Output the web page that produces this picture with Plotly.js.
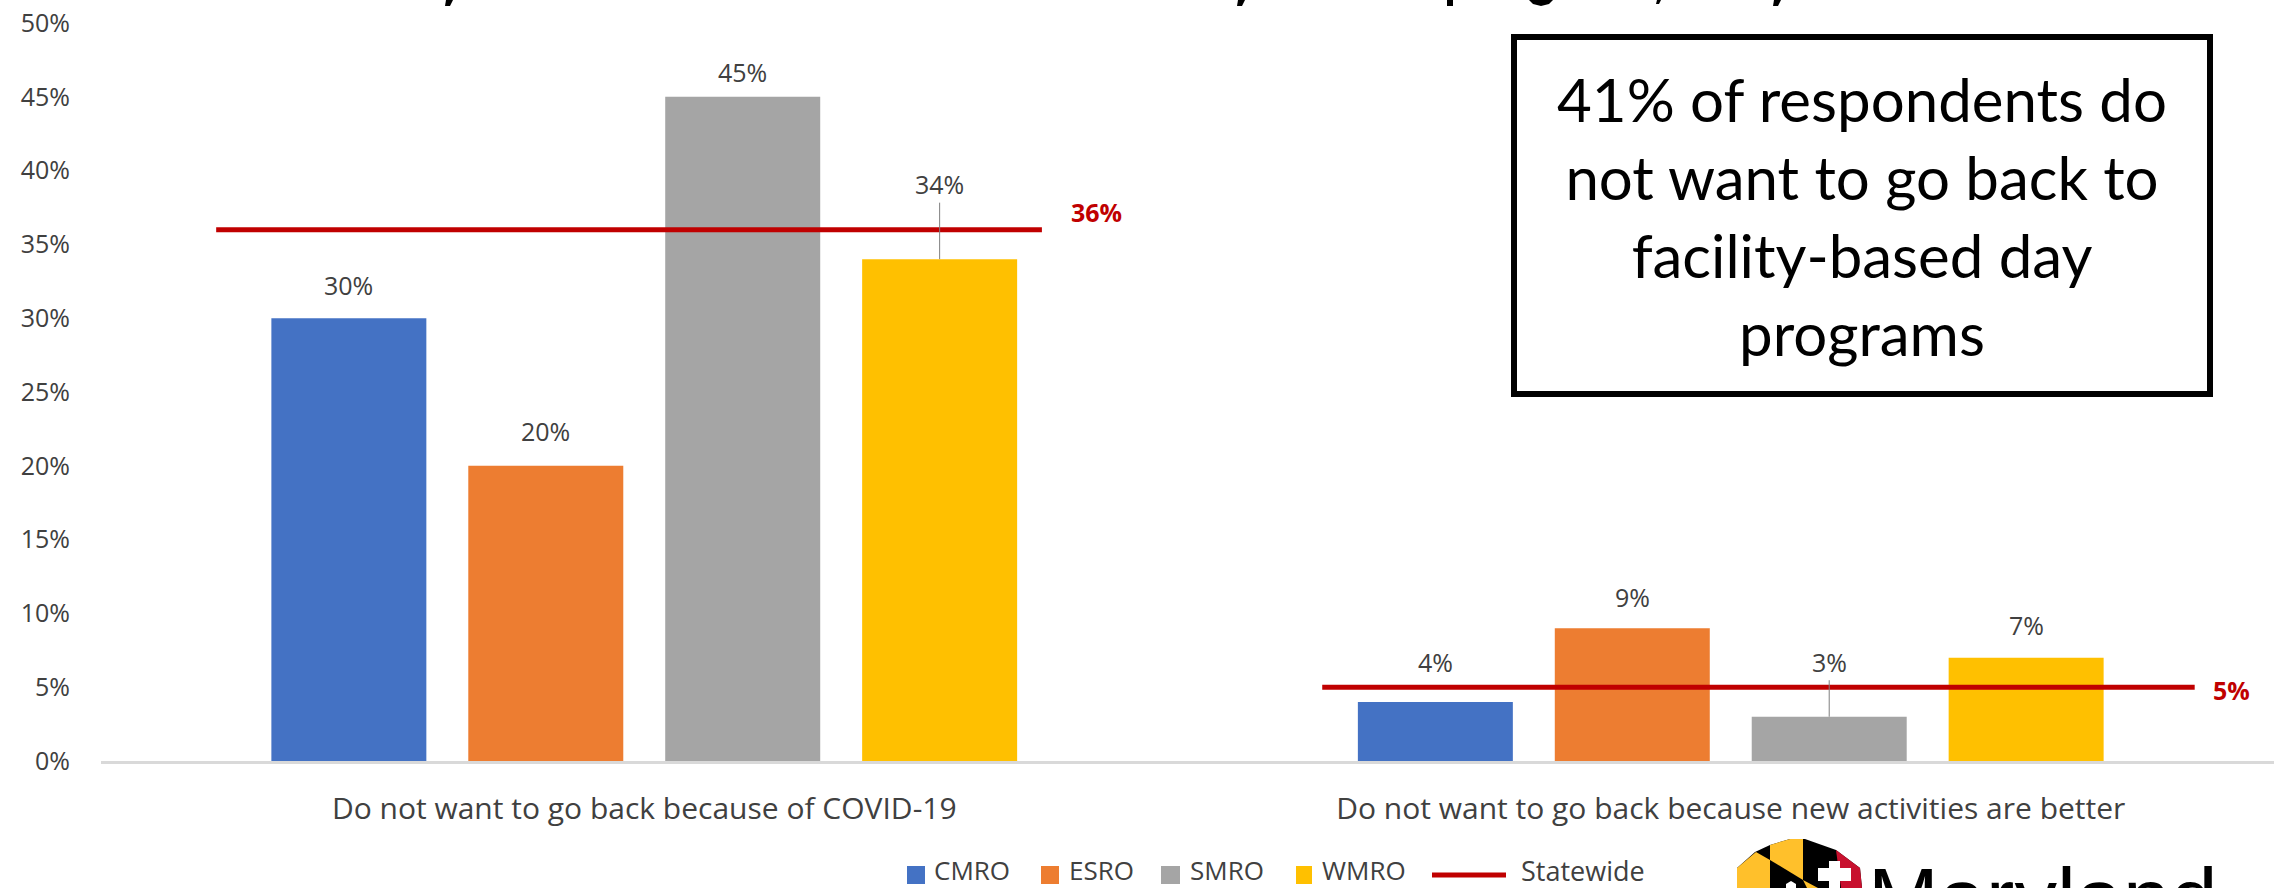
<!DOCTYPE html>
<html>
<head>
<meta charset="utf-8">
<script src="https://cdn.plot.ly/plotly-3.0.1.min.js"></script>
<style>html,body{margin:0;padding:0;background:#fff;overflow:hidden}</style>
</head>
<body>
<div id="chart" style="width:2283px;height:888px"></div>
<script>
// Reasons for not returning to facility-based day programs, by region
const categories = ["Do not want to go back because of COVID-19", "Do not want to go back because new activities are better"];
const cmro = [30, 4];
const esro = [20, 9];
const smro = [45, 3];
const wmro = [34, 7];
const statewide = [36, 5];
const regionNames = ["CMRO", "ESRO", "SMRO", "WMRO"];
const regionColors = ["#4472C4", "#ED7D31", "#A5A5A5", "#FFC000"];
const statewideName = "Statewide";
const statewideColor = "#C00000";
const yTicks = [0, 5, 10, 15, 20, 25, 30, 35, 40, 45, 50];
const calloutLines = ["41% of respondents do", "not want to go back to", "facility-based day", "programs"];

// Page geometry of the plot area
const W = 2283, H = 888, L = 101, R = 9, T = 23, B = 127;
const px = v => (v - L) / (W - L - R);
const py = v => (H - B - v) / (H - B - T);

const seriesValues = [cmro, esro, smro, wmro];
const groupIndex = categories.map((_, i) => i);
const BAR_GAP = 0.275, GROUP_GAP = 0.213;
const slot = (1 - BAR_GAP) / regionNames.length;

const traces = regionNames.map((name, j) => ({
  type: "bar", name, x: groupIndex, y: seriesValues[j],
  marker: {color: regionColors[j]}, hoverinfo: "name+y"
}));

// The statewide reference runs across each group as its own segment
const lineReach = [[-0.394, 0.366], [-0.376, 0.427]];
traces.push({
  type: "scatter", mode: "lines", name: statewideName,
  x: [lineReach[0][0], lineReach[0][1], null, 1 + lineReach[1][0], 1 + lineReach[1][1]],
  y: [statewide[0], statewide[0], null, statewide[1], statewide[1]],
  line: {color: statewideColor, width: 5}
});

// Pixel lift of each value label above its bar: [region][group]
const labelLift = [[33, 40], [35, 31], [25, 55], [75, 33]];
const leaders = [[false, false], [false, false], [false, true], [true, false]];
const annotations = [];
regionNames.forEach((_, j) => groupIndex.forEach(i => {
  const base = {
    x: i + (j - 1.5) * slot, y: seriesValues[j][i], xref: "x", yref: "y",
    text: seriesValues[j][i] + "%",
    font: {family: "Open Sans", size: 25, color: "#404040"}
  };
  if (leaders[j][i]) {
    annotations.push(Object.assign(base, {
      showarrow: true, arrowhead: 0, arrowwidth: 1, arrowcolor: "#7F7F7F",
      ax: 0, ay: -labelLift[j][i], axref: "pixel", ayref: "pixel", startstandoff: 0
    }));
  } else {
    annotations.push(Object.assign(base, {showarrow: false, yshift: labelLift[j][i]}));
  }
}));

// Statewide value labels beside the segment ends
const stateShift = [[55, 18], [37, -3]];
groupIndex.forEach(i => annotations.push({
  x: i + lineReach[i][1], y: statewide[i], xref: "x", yref: "y", showarrow: false,
  xshift: stateShift[i][0], yshift: stateShift[i][1], text: "<b>" + statewide[i] + "%</b>",
  font: {family: "Open Sans", size: 25, color: statewideColor}
}));

// Call-out box
annotations.push({
  xref: "paper", yref: "paper", x: px(1862), y: py(215.5), xanchor: "center", yanchor: "middle",
  showarrow: false, width: 690, height: 351, align: "center", valign: "middle",
  bgcolor: "#FFFFFF", bordercolor: "#000000", borderwidth: 6, borderpad: 0,
  text: calloutLines.join("<br>"),
  font: {family: "Lato", size: 60, color: "#000000"}
});

// Wordmark beside the seal
annotations.push({
  xref: "paper", yref: "paper", x: px(1866), y: py(931), xanchor: "left", yanchor: "bottom",
  yshift: -17, showarrow: false, text: "Maryland",
  font: {family: "Liberation Sans", size: 85, color: "#000000"}
});

const poly = pts => "M" + pts.map(p => px(p[0]) + "," + py(p[1])).join("L") + "Z";
const fill = (pts, color) => ({
  type: "path", xref: "paper", yref: "paper", layer: "above", path: poly(pts),
  fillcolor: color, line: {width: 0}
});

const shapes = [
  // State seal
  fill([[1737,888],[1737,868],[1755,852],[1770,845],[1790,839],[1805,839],[1836,850],[1860,868],[1862,888]], "#000000"),
  fill([[1737,888],[1737,868],[1756,852],[1770,860],[1770,888]], "#FFC02B"),
  fill([[1770,845],[1790,839],[1803,839],[1803,880],[1770,860]], "#FFC02B"),
  fill([[1803,880],[1818,888],[1807,888]], "#FFC02B"),
  fill([[1836,850],[1860,868],[1862,888],[1841,888]], "#C8102E"),
  fill([[1829,861],[1840,861],[1840,868],[1851,868],[1851,881],[1840,881],[1840,888],[1829,888],[1829,881],[1818,881],[1818,868],[1829,868]], "#FFFFFF"),
  fill([[1786,888],[1786,884],[1791,881],[1796,884],[1796,888]], "#FFFFFF"),
  // Lower tips of the heading, which runs off the top of the page
  fill([[446,0],[453,0],[450,6],[445,6]], "#000000"),
  fill([[1238,0],[1245,0],[1242,6],[1237,6]], "#000000"),
  fill([[1447,0],[1453,0],[1453,6],[1447,6]], "#000000"),
  fill([[1529,0],[1553,0],[1549,4],[1541,6],[1533,4]], "#000000"),
  fill([[1657,0],[1661,0],[1659,4],[1656,4]], "#000000"),
  fill([[1774,0],[1781,0],[1778,6],[1773,6]], "#000000")
];

// Legend row along the bottom of the page
const keyLeft = [907, 1041, 1161, 1296];
const keyRight = [925, 1059, 1180, 1312];
const keyText = [932, 1067, 1188, 1320];
const keyFont = {family: "Open Sans", size: 26, color: "#404040"};
regionNames.forEach((name, j) => {
  shapes.push(fill([[keyLeft[j],866],[keyRight[j],866],[keyRight[j],884],[keyLeft[j],884]], regionColors[j]));
  annotations.push({
    xref: "paper", yref: "paper", x: px(keyText[j]), y: py(870), xanchor: "left", yanchor: "middle",
    showarrow: false, text: name, font: keyFont
  });
});
shapes.push({
  type: "line", xref: "paper", yref: "paper", layer: "above",
  x0: px(1432), x1: px(1506), y0: py(875), y1: py(875), line: {color: statewideColor, width: 5}
});
annotations.push({
  xref: "paper", yref: "paper", x: px(1519), y: py(870), xanchor: "left", yanchor: "middle",
  showarrow: false, text: statewideName, font: {family: "Open Sans", size: 27, color: "#404040"}
});

const layout = {
  width: W, height: H, paper_bgcolor: "#FFFFFF", plot_bgcolor: "#FFFFFF",
  margin: {l: L, r: R, t: T, b: B, autoexpand: false},
  barmode: "group", bargap: BAR_GAP, bargroupgap: GROUP_GAP,
  font: {family: "Open Sans", size: 25, color: "#404040"},
  xaxis: {
    range: [-0.5, 1.5], tickmode: "array", tickvals: groupIndex, ticktext: categories,
    showgrid: false, zeroline: false, showline: true, linecolor: "#D9D9D9", linewidth: 3,
    ticks: "", ticklabelstandoff: 19, tickfont: {family: "Open Sans", size: 30, color: "#404040"}
  },
  yaxis: {
    range: [0, 50], tickmode: "array", tickvals: yTicks, ticktext: yTicks.map(v => v + "%"),
    showgrid: false, zeroline: false, showline: false, ticks: "",
    ticklabelstandoff: 30, tickfont: {family: "Open Sans", size: 25, color: "#404040"}
  },
  annotations, shapes, showlegend: false
};

Plotly.newPlot("chart", traces, layout, {displayModeBar: false, staticPlot: true});
</script>
</body>
</html>
